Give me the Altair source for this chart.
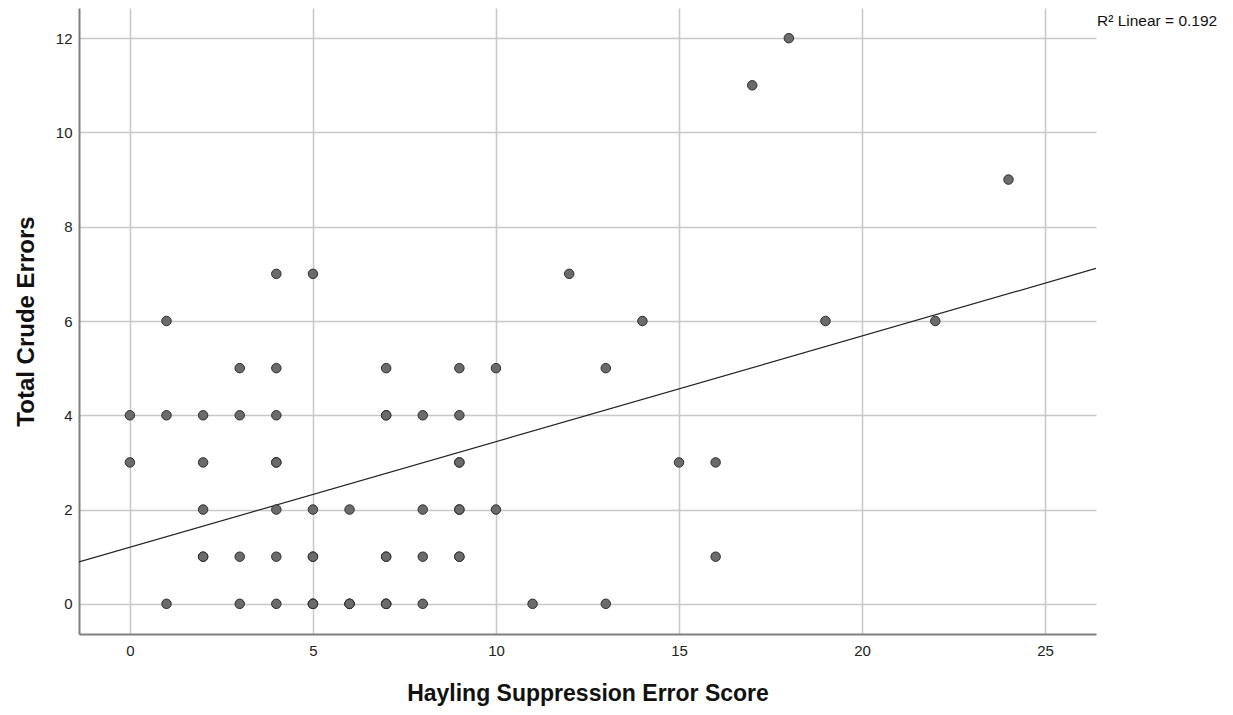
import altair as alt
import pandas as pd

# Data (darker dots counted as repeated cases)
hayling_x = [1, 3, 4, 5, 6, 7, 8, 11, 13,
             2, 3, 4, 5, 7, 8, 9, 16,
             2, 4, 5, 6, 8, 9, 10,
             0, 2, 4, 9, 15, 16,
             0, 1, 2, 3, 4, 7, 8, 9,
             3, 4, 7, 9, 10, 13,
             1, 14, 19, 22,
             4, 5, 12,
             24, 17, 18,
             2, 5, 5, 6, 7, 7, 9, 4, 9, 9, 7, 5, 6, 7]
crude_y = [0, 0, 0, 0, 0, 0, 0, 0, 0,
           1, 1, 1, 1, 1, 1, 1, 1,
           2, 2, 2, 2, 2, 2, 2,
           3, 3, 3, 3, 3, 3,
           4, 4, 4, 4, 4, 4, 4, 4,
           5, 5, 5, 5, 5, 5,
           6, 6, 6, 6,
           7, 7, 7,
           9, 11, 12,
           1, 1, 0, 0, 0, 1, 1, 3, 3, 2, 4, 0, 0, 0]
x_ticks = [0, 5, 10, 15, 20, 25]
y_ticks = [0, 2, 4, 6, 8, 10, 12]
r2_label = ["R\u00b2 Linear = 0.192"]

df = pd.DataFrame({"x": hayling_x, "y": crude_y})
x_dom = [-1.39, 26.39]
y_dom = [-0.64, 12.64]

FONT = "Liberation Sans"

xs = alt.Scale(domain=x_dom, nice=False, zero=False)
ys = alt.Scale(domain=y_dom, nice=False, zero=False)

x_axis = alt.Axis(values=x_ticks, title="Hayling Suppression Error Score", grid=True,
                  gridColor="#c8c8c8", gridWidth=1.5, ticks=False, domainColor="#808080",
                  domainWidth=2, labelFont=FONT, labelFontSize=15, labelColor="#222",
                  labelPadding=9, titleFont=FONT, titleFontSize=23, titleFontWeight="bold",
                  titleColor="#111", titlePadding=24)
y_axis = alt.Axis(values=y_ticks, title="Total Crude Errors", grid=True,
                  gridColor="#c8c8c8", gridWidth=1.5, ticks=False, domainColor="#808080",
                  domainWidth=2, labelFont=FONT, labelFontSize=15, labelColor="#222",
                  labelPadding=7, titleFont=FONT, titleFontSize=24, titleFontWeight="bold",
                  titleColor="#111", titlePadding=17)

points = alt.Chart(df).mark_point(filled=True, size=90, fill="#6b6b6b", stroke="#2e2e2e",
                                  strokeWidth=1, opacity=1).encode(
    x=alt.X("x:Q", scale=xs, axis=x_axis),
    y=alt.Y("y:Q", scale=ys, axis=y_axis),
)

line = alt.Chart(df).transform_regression("x", "y", extent=x_dom).mark_line(
    color="#222", strokeWidth=1.2, clip=True).encode(
    x=alt.X("x:Q", scale=xs),
    y=alt.Y("y:Q", scale=ys),
)

r2 = alt.Chart(pd.DataFrame({"t": r2_label})).mark_text(
    align="left", baseline="middle", font=FONT, fontSize=15.5, color="#111").encode(
    x=alt.value(1018), y=alt.value(13), text="t:N")

chart = alt.layer(line, points, r2).properties(
    width=1017, height=626,
    background="white",
    autosize=alt.AutoSizeParams(type="none"),
    padding={"left": 79, "top": 8, "right": 137, "bottom": 81},
).configure_view(stroke=None)

chart.save("out.html", embed_options={"renderer": "svg", "actions": False})
